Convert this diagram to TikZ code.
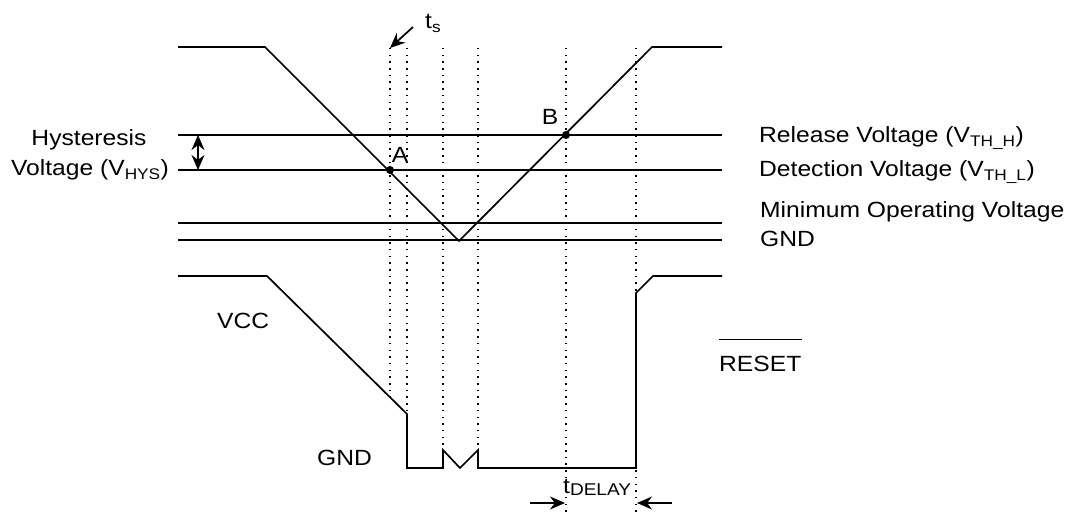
\documentclass[tikz,border=0pt]{standalone}
\usepackage{fontspec}
\setmainfont{Liberation Sans}[FakeStretch=1.12]
\usetikzlibrary{arrows.meta}
\begin{document}
\begin{tikzpicture}[x=1pt,y=-1pt,
  wave/.style={line width=1.7pt,line join=miter},
  level/.style={line width=1.7pt},
  guide/.style={line width=1.5pt,dash pattern=on 1.5pt off 5.2pt},
  lbl/.style={inner sep=0pt,font=\fontsize{22}{25}\selectfont},
  tip/.style={Stealth[length=15pt,width=13pt]},
  arr/.style={-{Stealth[length=15pt,width=13pt]},line width=1.7pt},
  dot/.style={circle,fill=black,inner sep=0pt,minimum size=8pt}]
\useasboundingbox (0,0) rectangle (1069,513);
% guides
\draw[guide] (390,48) -- (390,397);
\draw[guide] (407,48) -- (407,414);
\draw[guide] (443,48) -- (443,450);
\draw[guide] (478,48) -- (478,450);
\draw[guide] (566,48) -- (566,512);
\draw[guide] (636,48) -- (636,512);
% levels
\draw[level] (178,135) -- (722,135);
\draw[level] (178,170) -- (722,170);
\draw[level] (178,223) -- (722,223);
\draw[level] (178,240) -- (722,240);
% top waveform
\draw[wave] (178,47) -- (265,47) -- (459,241) -- (652,47) -- (722,47);
% bottom waveform
\draw[wave] (178,276) -- (267,276) -- (407,414) -- (407,468) -- (443,468) -- (443,450)
  -- (460,468) -- (478,450) -- (478,468) -- (636,468) -- (636,293) -- (653,276) -- (722,276);
% points
\node[dot] (pA) at (390,170) {};
\node[dot] (pB) at (566,135) {};
\node[lbl,anchor=base] (A) at (400,163) {A};
\node[lbl,anchor=base] (B) at (550,125) {B};
% t_s
\node[lbl,anchor=base west] (ts) at (425,29) {t\textsubscript{s}};
\coordinate (tsA) at (413,27);
\coordinate (tsB) at (390,48);
\draw[arr] (tsA) -- (tsB);
% hysteresis
\node[lbl,anchor=base] (hys1) at (89,146) {Hysteresis};
\node[lbl,anchor=base] (hys2) at (90,176) {Voltage (V\textsubscript{HYS})};
\coordinate (h1) at (198,135);
\coordinate (h2) at (198,170);
\draw[line width=1.7pt,{Stealth[length=15pt,width=13pt]}-{Stealth[length=15pt,width=13pt]}] (h1) -- (h2);
% right labels
\node[lbl,anchor=base west] (rel) at (759,143) {Release Voltage (V\textsubscript{TH\_H})};
\node[lbl,anchor=base west] (det) at (759,177) {Detection Voltage (V\textsubscript{TH\_L})};
\node[lbl,anchor=base west] (mov) at (760,218) {Minimum Operating Voltage};
\node[lbl,anchor=base west] (gnd1) at (760,247) {GND};
\node[lbl,anchor=base west] (vcc) at (217,329) {VCC};
\node[lbl,anchor=base west] (gnd2) at (317,465) {GND};
\node[lbl,anchor=base west] (reset) at (719,371) {RESET};
\draw[level] ([yshift=16pt]reset.north west) -- ([yshift=16pt]reset.north east);
% t_delay
\node[lbl,anchor=base west] (td) at (563,493) {t{\fontsize{17}{19}\selectfont\raisebox{-2pt}{DELAY}}};
\coordinate (d1) at (530,503);
\coordinate (d2) at (565,503);
\coordinate (d3) at (672,503);
\coordinate (d4) at (637,503);
\draw[arr] (d1) -- (d2);
\draw[arr] (d3) -- (d4);
\end{tikzpicture}
\end{document}
